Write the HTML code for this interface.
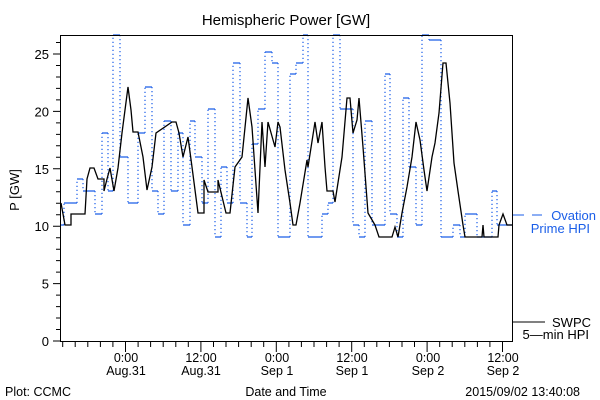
<!DOCTYPE html>
<html><head><meta charset="utf-8"><style>
html,body{margin:0;padding:0;background:#fff;}
svg{display:block;font-family:"Liberation Sans",sans-serif;}
</style></head><body>
<svg id="s" width="600" height="400" xmlns="http://www.w3.org/2000/svg">
<rect width="600" height="400" fill="#fff"/>
<text x="286" y="25" font-size="15" text-anchor="middle">Hemispheric Power [GW]</text>
<text transform="translate(19,190) rotate(-90)" font-size="13" text-anchor="middle">P [GW]</text>
<g id="ticks" stroke="#000" stroke-width="1"></g>
<g font-size="13" text-anchor="end" id="ylab"></g>
<g font-size="12.5" text-anchor="middle">
<text x="126" y="362">0:00</text><text x="126" y="375">Aug.31</text>
<text x="201" y="362">12:00</text><text x="201" y="375">Aug.31</text>
<text x="277" y="362">0:00</text><text x="277" y="375">Sep 1</text>
<text x="352" y="362">12:00</text><text x="352" y="375">Sep 1</text>
<text x="428" y="362">0:00</text><text x="428" y="375">Sep 2</text>
<text x="503" y="362">12:00</text><text x="503" y="375">Sep 2</text>
<text x="286" y="396">Date and Time</text>
</g>
<text x="5" y="396" font-size="12.5">Plot: CCMC</text>
<text x="580" y="396" font-size="12.5" text-anchor="end">2015/09/02 13:40:08</text>
<g fill="#1a5ee8" font-size="13">
<text x="596" y="220" text-anchor="end">Ovation</text>
<text x="590" y="233" text-anchor="end">Prime HPI</text>
</g>
<path d="M512,215H524M532,215H542" stroke="#1a5ee8" stroke-width="1"/>
<g font-size="13"><text x="552" y="327">SWPC</text><text x="589" y="339" text-anchor="end">5—min HPI</text></g>
<path d="M512,322H545" stroke="#000"/>
<path id="bv" fill="none" stroke="#1a5ee8" stroke-width="1.2" stroke-dasharray="1.2 2.8"/>
<path id="bh" fill="none" stroke="#1a5ee8" stroke-width="1.3"/>
<polyline fill="none" stroke="#000" stroke-width="1.3" points="61,203 65,225 71,225 71,214 85,214 87,179 90,168 94,168 98,179 104,179 104,191 107,179 110,168 114,191 118,168 122,133 125,110 128,87 131,110 133,132 138,132 143,157 147,190 152,167 156,133 172,122 176,122 179,133 183,157 188,137 192,167 198,213 204,213 204,180 208,192 218,192 218,180 226,213 230,213 235,167 242,157 248,98 252,127 255,170 258,213 262,122 265,167 268,122 275,147 278,122 280,127 285,170 290,203 293,225 296,225 300,203 307,160 308,167 315,122 318,143 322,122 325,167 327,191 333,191 335,202 342,157 347,98 350,98 353,133 357,120 359,98 363,147 368,213 375,225 379,237 392,237 395,227 398,237 402,213 407,187 412,157 416,122 420,140 424,170 427,191 432,157 435,143 439,113 443,63 446,63 450,103 454,163 458,191 463,225 465,237 482,237 483,225 484,237 498,237 499,225 503,214 507,225 512,225"/>
<rect x="60.5" y="35.5" width="452" height="306" fill="none" stroke="#000" stroke-width="1"/>
</svg>
<script>
var NS="http://www.w3.org/2000/svg";
var d="M61,225 H64 V203 H77 V179 H83 V191 H95 V214 H102 V133 H108 V191 H113 V35 H120 V157 H128 V203 H138 V133 H145 V87 H152 V191 H158 V214 H164 V121 H171 V191 H178 V133 H183 V225 H190 V121 H195 V157 H202 V203 H208 V109 H215 V237 H221 V167 H227 V203 H233 V63 H240 V203 H247 V237 H252 V144 H258 V109 H265 V52 H272 V63 H278 V237 H290 V74 H296 V63 H303 V35 H308 V237 H322 V214 H328 V203 H333 V35 H340 V109 H353 V225 H359 V237 H365 V121 H372 V225 H385 V74 H390 V214 H397 V237 H403 V98 H409 V167 H416 V225 H422 V35 H429 V40 H441 V237 H453 V225 H460 V237 H465 V214 H477 V237 H492 V191 H497 V225 H512";
var t=d.split(/\s+/);var x=61,y=225,v="",h="";
for(var i=1;i<t.length;i++){var c=t[i][0],n=+t[i].slice(1);
if(c=="H"){h+="M"+x+","+y+"H"+n;x=n;}else{v+="M"+x+","+y+"V"+n;y=n;}}
document.getElementById("bv").setAttribute("d",v);
document.getElementById("bh").setAttribute("d",h);
var g=document.getElementById("ticks"),p="";
for(var k=0;k<=26;k++){var yy=341-k*11.48;var L=(k%5==0)?7:4;p+="M60,"+yy.toFixed(1)+"H"+(60-L);}
var x0=125.5,s=75.4/6;
for(var j=-5;j<=36;j++){var xx=x0+j*s;if(xx<61||xx>512)continue;var L=(j%6==0)?10:5;p+="M"+xx.toFixed(1)+",342V"+(342+L);}
var pe=document.createElementNS(NS,"path");pe.setAttribute("d",p);g.appendChild(pe);
var yl=document.getElementById("ylab");
for(var k=0;k<=25;k+=5){var te=document.createElementNS(NS,"text");te.setAttribute("x",49);te.setAttribute("y",(341-k*11.48+5).toFixed(1));te.textContent=k;yl.appendChild(te);}
</script>
</body></html>
